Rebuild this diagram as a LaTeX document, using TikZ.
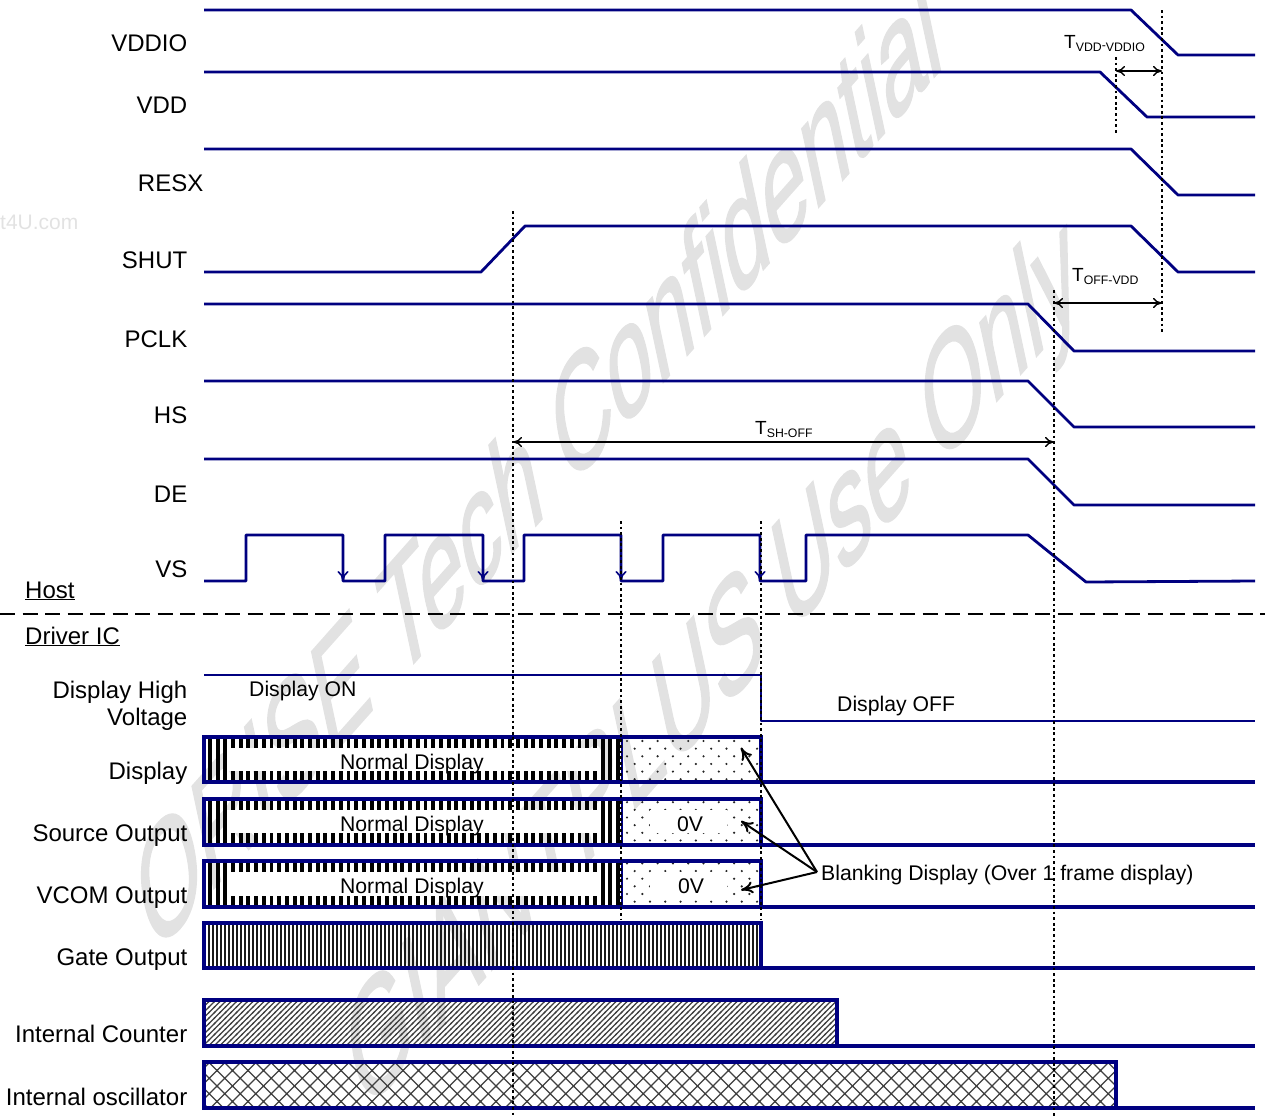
\documentclass[tikz,border=0pt]{standalone}
\usepackage{fontspec}
\setmainfont{Liberation Sans}
\newfontface\stampface[FakeBold=1.5]{Liberation Sans}
\usepackage{tikz}
\usetikzlibrary{arrows.meta,positioning,patterns}
\definecolor{wire}{HTML}{000080}
\definecolor{stamp}{HTML}{E2E2E2}
% fills of the display rows
\pgfdeclarepatternformonly{dispstripes}{\pgfqpoint{-1pt}{-1pt}}{\pgfqpoint{8.7pt}{8.7pt}}{\pgfqpoint{7.7pt}{7.7pt}}{%
  \pgfpathrectangle{\pgfqpoint{0pt}{-1pt}}{\pgfqpoint{3.9pt}{9.7pt}}\pgfusepath{fill}}
\pgfdeclarepatternformonly{gatestripes}{\pgfqpoint{-1pt}{-1pt}}{\pgfqpoint{5pt}{5pt}}{\pgfqpoint{4pt}{4pt}}{%
  \pgfpathrectangle{\pgfqpoint{0pt}{-1pt}}{\pgfqpoint{2.2pt}{6pt}}\pgfusepath{fill}}
\pgfdeclarepatternformonly{blankdots}{\pgfqpoint{-1pt}{-1pt}}{\pgfqpoint{17.3pt}{17.3pt}}{\pgfqpoint{15.3pt}{15.3pt}}{%
  \pgfpathcircle{\pgfqpoint{7.35pt}{1.15pt}}{1.2pt}\pgfpathcircle{\pgfqpoint{15pt}{8.8pt}}{1.2pt}\pgfusepath{fill}}
\pgfdeclarepatternformonly{counterhatch}{\pgfqpoint{-1pt}{-1pt}}{\pgfqpoint{6.5pt}{6.5pt}}{\pgfqpoint{5.5pt}{5.5pt}}{%
  \pgfsetlinewidth{1.2pt}\pgfpathmoveto{\pgfqpoint{-1pt}{-1pt}}\pgfpathlineto{\pgfqpoint{6.5pt}{6.5pt}}\pgfusepath{stroke}}
\pgfdeclarepatternformonly{osccross}{\pgfqpoint{-1pt}{-1pt}}{\pgfqpoint{16.5pt}{16.5pt}}{\pgfqpoint{15.5pt}{15.5pt}}{%
  \pgfsetlinewidth{1.3pt}\pgfpathmoveto{\pgfqpoint{-1pt}{-1pt}}\pgfpathlineto{\pgfqpoint{16.5pt}{16.5pt}}
  \pgfpathmoveto{\pgfqpoint{-1pt}{16.5pt}}\pgfpathlineto{\pgfqpoint{16.5pt}{-1pt}}\pgfusepath{stroke}}
\newcommand{\timelabel}[2]{#1\raisebox{-3pt}{\fontsize{12.3}{14}\selectfont #2}}
\tikzset{
  wave/.style={wire,line width=2.8pt,line join=round},
  rowbox/.style={wire,line width=3.1pt},
  guide/.style={black,line width=2.8pt,dash pattern=on 2.8pt off 2.8pt},
  timespan/.style={black,line width=1.4pt,{To[length=9pt,width=10pt]}-{To[length=9pt,width=10pt]}},
  blankarrow/.style={black,line width=2pt,-{To[length=12pt,width=12pt]}},
  signame/.style={anchor=base east,inner sep=0pt,font=\fontsize{24}{26}\selectfont},
  sigtag/.style={anchor=base west,inner sep=0pt,font=\fontsize{21.2}{26}\selectfont},
  inbox/.style={anchor=base,inner sep=0pt,font=\fontsize{21.2}{26}\selectfont},
  stampline/.style={anchor=base west,inner sep=0pt,text=stamp,font=\stampface\fontsize{108}{110}\selectfont,cm={.664,.748,-.292,1.371,(0,0)}},
}
\begin{document}
\begin{tikzpicture}[x=1pt,y=-1pt,>=Stealth]
\useasboundingbox (0,0) rectangle (1265,1117);
% watermark
\node[stampline] (stampa) at (152,958) {ORISE Tech Confidential};
\node[stampline] (stampb) at (362,1116) {GIANTPLUS Use Only};
\node[text=stamp,anchor=base west,inner sep=0pt,font=\fontsize{21}{22}\selectfont] (stampc) at (0,229) {t4U.com};
% signal names
\node[signame] (vddio) at (187.5,51) {VDDIO};
\node[signame] (vdd) at (187.5,113) {VDD};
\node[signame] (resx) at (203.5,191) {RESX};
\node[signame] (shut) at (187.5,268) {SHUT};
\node[signame] (pclk) at (187.5,347) {PCLK};
\node[signame] (hs) at (187.5,423) {HS};
\node[signame] (de) at (187.5,502) {DE};
\node[signame] (vs) at (187.5,577) {VS};
\node[sigtag,font=\fontsize{24}{26}\selectfont] (host) at (25,598) {\underline{Host}};
\node[sigtag,font=\fontsize{24}{26}\selectfont] (driver) at (25,644) {\underline{Driver IC}};
\node[signame] (dhigh) at (187.5,698) {Display High};
\node[signame] (dvolt) at (187.5,725) {Voltage};
\node[signame] (disp) at (187.5,779) {Display};
\node[signame] (source) at (187.5,841) {Source Output};
\node[signame] (vcom) at (187.5,903) {VCOM Output};
\node[signame] (gate) at (187.5,965) {Gate Output};
\node[signame] (counter) at (187.5,1042) {Internal Counter};
\node[signame] (osc) at (187.5,1105) {Internal oscillator};
% upper waves
\draw[wave] (204,10) -- (1131,10) -- (1178,55) -- (1255,55);
\draw[wave] (204,72) -- (1100,72) -- (1147,117) -- (1255,117);
\draw[wave] (204,149) -- (1131,149) -- (1178,195) -- (1255,195);
\draw[wave] (204,272) -- (481,272) -- (525,226) -- (1131,226) -- (1178,272) -- (1255,272);
\draw[wave] (204,304) -- (1028,304) -- (1074,351) -- (1255,351);
\draw[wave] (204,381) -- (1028,381) -- (1074,427) -- (1255,427);
\draw[wave] (204,459) -- (1028,459) -- (1074,505) -- (1255,505);
\draw[wave] (204,581) -- (246,581) -- (246,535) -- (343,535) -- (343,581) -- (385,581) -- (385,535) -- (483,535) -- (483,581) -- (524,581) -- (524,535) -- (621,535) -- (621,581) -- (663,581) -- (663,535) -- (760,535) -- (760,581) -- (806,581) -- (806,535) -- (1028,535) -- (1086,582) -- (1255,581);
% falling edge marks
\draw[wave,line width=1.6pt,-{To[length=10pt,width=11pt]}] (343,560) -- (343,581);
\draw[wave,line width=1.6pt,-{To[length=10pt,width=11pt]}] (483,560) -- (483,581);
\draw[wave,line width=1.6pt,-{To[length=10pt,width=11pt]}] (621,560) -- (621,581);
\draw[wave,line width=1.6pt,-{To[length=10pt,width=11pt]}] (760,560) -- (760,581);
% host / driver border
\draw[black,line width=2.8pt,dash pattern=on 15pt off 7.5pt] (0,614) -- (1265,614);
% lower waves
\draw[wave] (204,675) -- (761,675) -- (761,721) -- (1255,721);
\node[sigtag] (don) at (249,696) {Display ON};
\node[sigtag] (doff) at (837,711) {Display OFF};
% display rows
\fill[pattern=dispstripes] (204,737) rectangle (622,782);
\fill[pattern=dispstripes] (204,799) rectangle (622,845);
\fill[pattern=dispstripes] (204,861) rectangle (622,907);
\fill[white] (227,748) rectangle (598,771);
\fill[white] (227,810) rectangle (598,833);
\fill[white] (227,872) rectangle (598,896);
\fill[pattern=blankdots,pattern color=black!85] (622,737) rectangle (761,782);
\fill[pattern=blankdots,pattern color=black!85] (622,799) rectangle (761,845);
\fill[pattern=blankdots,pattern color=black!85] (622,861) rectangle (761,907);
\fill[white] (650,810) rectangle (727,833);
\fill[white] (650,872) rectangle (727,896);
\draw[rowbox] (761,782) -- (204,782) -- (204,737) -- (761,737) -- (761,782) -- (1255,782);
\draw[rowbox] (761,845) -- (204,845) -- (204,799) -- (761,799) -- (761,845) -- (1255,845);
\draw[rowbox] (761,907) -- (204,907) -- (204,861) -- (761,861) -- (761,907) -- (1255,907);
\draw[wire,line width=2.4pt] (622,737) -- (622,782) (622,799) -- (622,845) (622,861) -- (622,907);
\node[inbox] (norma) at (412,769) {Normal Display};
\node[inbox] (normb) at (412,831) {Normal Display};
\node[inbox] (normc) at (412,893) {Normal Display};
\node[inbox] (zeroa) at (690,831) {0V};
\node[inbox] (zerob) at (691,893) {0V};
% gate, counter, oscillator
\fill[pattern=gatestripes,pattern color=black!90] (204,923) rectangle (761,968);
\draw[rowbox] (761,968) -- (204,968) -- (204,923) -- (761,923) -- (761,968) -- (1255,968);
\fill[pattern=counterhatch,pattern color=black!75] (204,1000) rectangle (837,1045);
\draw[rowbox] (837,1046) -- (204,1046) -- (204,1000) -- (837,1000) -- (837,1046) -- (1255,1046);
\fill[pattern=osccross,pattern color=black!75] (204,1062) rectangle (1116,1108);
\draw[rowbox] (1116,1108) -- (204,1108) -- (204,1062) -- (1116,1062) -- (1116,1108) -- (1255,1108);
% guides
\draw[guide] (513,211) -- (513,1117);
\draw[guide] (621,521) -- (621,920);
\draw[guide] (761,521) -- (761,920);
\draw[guide] (1054,290) -- (1054,1117);
\draw[guide] (1162,10) -- (1162,332);
\draw[guide] (1116,57) -- (1116,135);
% timings
\coordinate (vddl) at (1116,71);
\coordinate (vddr) at (1162,71);
\coordinate (offl) at (1054,303);
\coordinate (offr) at (1162,303);
\coordinate (shl) at (513,442);
\coordinate (shr) at (1054,442);
\draw[timespan] (vddl) -- (vddr);
\draw[timespan] (offl) -- (offr);
\draw[timespan] (shl) -- (shr);
\node[anchor=base west,inner sep=0pt,font=\fontsize{19}{20}\selectfont] (tvdd) at (1064,48) {\timelabel{T}{VDD\raisebox{2pt}{-}VDDIO}};
\node[anchor=base west,inner sep=0pt,font=\fontsize{19}{20}\selectfont] (toff) at (1072,281) {\timelabel{T}{OFF-VDD}};
\node[anchor=base west,inner sep=0pt,font=\fontsize{19}{20}\selectfont] (tsh) at (755,434) {\timelabel{T}{SH-OFF}};
% blanking callout
\node[sigtag] (blanktxt) at (821,880) {Blanking Display (Over 1 frame display)};
\coordinate (blankfrom) at (817,872);
\coordinate (blanka) at (741,748);
\coordinate (blankb) at (741,821);
\coordinate (blankc) at (741,890);
\draw[blankarrow] (blankfrom) -- (blanka);
\draw[blankarrow] (blankfrom) -- (blankb);
\draw[blankarrow] (blankfrom) -- (blankc);
\end{tikzpicture}
\end{document}
